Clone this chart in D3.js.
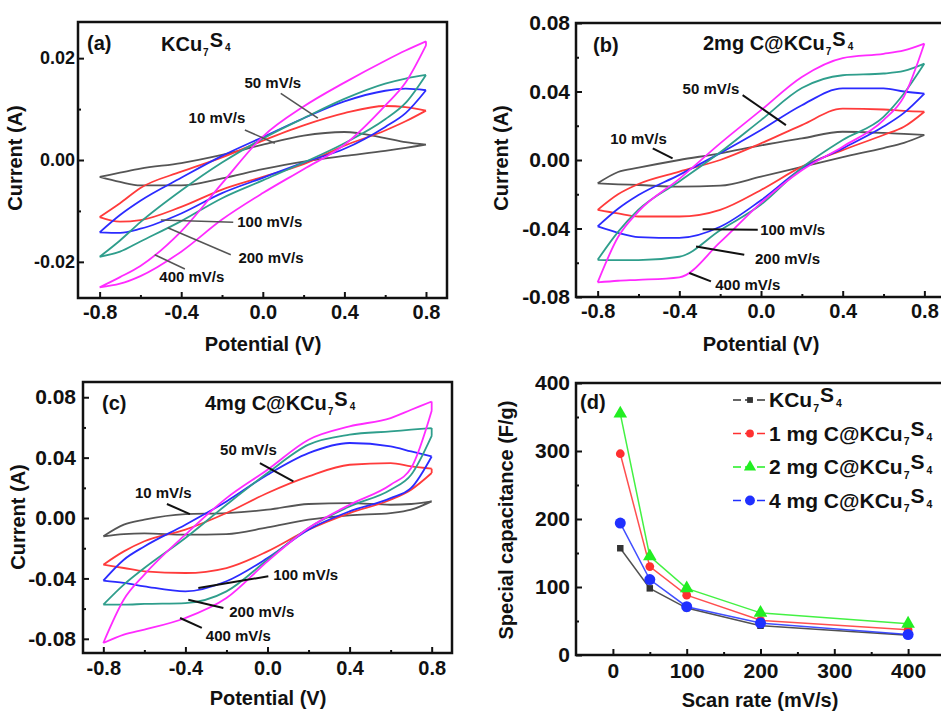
<!DOCTYPE html>
<html>
<head>
<meta charset="utf-8">
<script src="https://cdn.jsdelivr.net/npm/d3@7"></script>
<style>
  body { margin: 0; background: #fff; }
  svg text { font-family: "Liberation Sans", Arial, sans-serif; font-weight: bold; fill: #111; }
</style>
</head>
<body>
<svg id="chart" width="941" height="711"></svg>
<script>
// ---------- data ----------
var potentials = [-0.8, -0.7, -0.6, -0.4, -0.2, 0, 0.2, 0.4, 0.6, 0.7, 0.8];
var scanLabels = ["10 mV/s", "50 mV/s", "100 mV/s", "200 mV/s", "400 mV/s"];

// current (A) on the forward (anodic) and reverse scans, one row per scan rate
var cvA_forward = [
  [-0.0033, -0.0025, -0.0017, -0.0006, 0.0010, 0.0030, 0.0048, 0.0055, 0.0043, 0.0035, 0.0030],
  [-0.0112, -0.0085, -0.0055, -0.0023, 0.0005, 0.0038, 0.0068, 0.0092, 0.0106, 0.0104, 0.0097],
  [-0.0142, -0.0108, -0.0080, -0.0035, 0.0008, 0.0045, 0.0082, 0.0115, 0.0136, 0.0140, 0.0137],
  [-0.0190, -0.0158, -0.0122, -0.0060, -0.0005, 0.0042, 0.0082, 0.0120, 0.0150, 0.0160, 0.0167],
  [-0.0250, -0.0230, -0.0208, -0.0140, -0.0046, 0.0046, 0.0105, 0.0152, 0.0195, 0.0215, 0.0233]
];
var cvA_reverse = [
  [-0.0033, -0.0043, -0.0050, -0.0050, -0.0036, -0.0018, -0.0003, 0.0008, 0.0018, 0.0024, 0.0030],
  [-0.0112, -0.0121, -0.0118, -0.0092, -0.0058, -0.0033, -0.0008, 0.0028, 0.0058, 0.0076, 0.0097],
  [-0.0142, -0.0143, -0.0135, -0.0105, -0.0065, -0.0035, -0.0005, 0.0022, 0.0065, 0.0092, 0.0137],
  [-0.0190, -0.0180, -0.0160, -0.0120, -0.0075, -0.0040, -0.0005, 0.0033, 0.0080, 0.0112, 0.0167],
  [-0.0250, -0.0243, -0.0228, -0.0180, -0.0117, -0.0065, -0.0018, 0.0030, 0.0107, 0.0152, 0.0225]
];

var cvB_forward = [
  [-0.0136, -0.0070, -0.0045, 0.0000, 0.0039, 0.0085, 0.0126, 0.0165, 0.0158, 0.0152, 0.0146],
  [-0.0291, -0.0200, -0.0140, -0.0068, 0.0000, 0.0097, 0.0204, 0.0300, 0.0295, 0.0287, 0.0282],
  [-0.0388, -0.0285, -0.0205, -0.0087, 0.0040, 0.0175, 0.0320, 0.0418, 0.0418, 0.0400, 0.0388],
  [-0.0583, -0.0420, -0.0290, -0.0125, 0.0045, 0.0233, 0.0420, 0.0495, 0.0505, 0.0520, 0.0563],
  [-0.0715, -0.0450, -0.0300, -0.0110, 0.0097, 0.0291, 0.0485, 0.0595, 0.0620, 0.0640, 0.0680]
];
var cvB_reverse = [
  [-0.0136, -0.0142, -0.0146, -0.0156, -0.0150, -0.0097, -0.0040, 0.0017, 0.0070, 0.0100, 0.0146],
  [-0.0291, -0.0312, -0.0330, -0.0330, -0.0291, -0.0175, -0.0039, 0.0058, 0.0146, 0.0194, 0.0282],
  [-0.0388, -0.0425, -0.0450, -0.0455, -0.0390, -0.0235, -0.0050, 0.0068, 0.0195, 0.0275, 0.0388],
  [-0.0583, -0.0585, -0.0585, -0.0565, -0.0410, -0.0260, -0.0045, 0.0117, 0.0252, 0.0388, 0.0563],
  [-0.0715, -0.0705, -0.0700, -0.0685, -0.0480, -0.0250, -0.0060, 0.0078, 0.0233, 0.0370, 0.0680]
];

var cvC_forward = [
  [-0.0121, -0.0044, -0.0011, 0.0026, 0.0033, 0.0055, 0.0093, 0.0099, 0.0088, 0.0093, 0.0110],
  [-0.0309, -0.0221, -0.0154, -0.0077, 0.0033, 0.0166, 0.0276, 0.0353, 0.0364, 0.0342, 0.0327],
  [-0.0415, -0.0276, -0.0188, -0.0044, 0.0110, 0.0287, 0.0430, 0.0497, 0.0475, 0.0441, 0.0408],
  [-0.0574, -0.0441, -0.0331, -0.0132, 0.0088, 0.0298, 0.0486, 0.0552, 0.0574, 0.0585, 0.0596],
  [-0.0828, -0.0540, -0.0375, -0.0110, 0.0132, 0.0320, 0.0519, 0.0607, 0.0662, 0.0717, 0.0772]
];
var cvC_reverse = [
  [-0.0121, -0.0106, -0.0102, -0.0110, -0.0106, -0.0062, -0.0011, 0.0018, 0.0033, 0.0055, 0.0110],
  [-0.0309, -0.0331, -0.0353, -0.0364, -0.0331, -0.0221, -0.0077, 0.0033, 0.0121, 0.0188, 0.0298],
  [-0.0415, -0.0430, -0.0452, -0.0486, -0.0419, -0.0265, -0.0077, 0.0044, 0.0132, 0.0199, 0.0408],
  [-0.0574, -0.0574, -0.0569, -0.0563, -0.0486, -0.0276, -0.0066, 0.0077, 0.0188, 0.0287, 0.0545],
  [-0.0828, -0.0772, -0.0739, -0.0662, -0.0530, -0.0287, -0.0066, 0.0088, 0.0221, 0.0331, 0.0710]
];

// panel (d): specific capacitance vs scan rate
var scanRates = [10, 50, 100, 200, 400];
var capKCu = [157, 98, 69, 43, 29];
var cap1mg = [296, 130, 88, 51, 37];
var cap2mg = [355, 145, 98, 62, 46];
var cap4mg = [194, 111, 71, 47, 30];
var legendPrefixes = ["", "1 mg C@", "2 mg C@", "4 mg C@"];

// ---------- styles ----------
var cvColors = ["#555555", "#ff3b3b", "#2b2bff", "#2f9e8c", "#ff2bff"];
var capColors = ["#333333", "#ff3030", "#22ee22", "#2030ff"];

var svg = d3.select("#chart");
var loc = d3.formatLocale({decimal: ".", thousands: ",", grouping: [3], currency: ["", ""], minus: "-"});

function formula(textSel, prefix) {
  textSel.append("tspan").text(prefix + "KCu");
  textSel.append("tspan").text("7").attr("font-size", "0.5em").attr("dy", "0.45em").attr("dx", "1");
  textSel.append("tspan").text("S").attr("dy", "-0.45em").attr("dx", "1");
  textSel.append("tspan").text("4").attr("font-size", "0.5em").attr("dy", "0.45em").attr("dx", "2");
}

function styleAxis(g, size) {
  g.select(".domain").remove();
  g.selectAll(".tick line").attr("stroke", "#111").attr("stroke-width", 2);
  g.selectAll(".tick text").attr("font-size", size).attr("fill", "#111");
}

function addAxes(x, y, box, o) {
  var gx = svg.append("g").attr("transform", "translate(0," + box[3] + ")")
    .call(d3.axisBottom(x).tickValues(o.xMajor).tickSize(-6).tickPadding(o.xPad).tickFormat(o.xFmt));
  styleAxis(gx, o.xFont);
  var gxm = svg.append("g").attr("transform", "translate(0," + box[3] + ")")
    .call(d3.axisBottom(x).tickValues(o.xMinor).tickSize(-3).tickFormat(""));
  styleAxis(gxm, 1);
  var gy = svg.append("g").attr("transform", "translate(" + box[0] + ",0)")
    .call(d3.axisLeft(y).tickValues(o.yMajor).tickSize(-6).tickPadding(o.yPad).tickFormat(o.yFmt));
  styleAxis(gy, o.yFont);
  var gym = svg.append("g").attr("transform", "translate(" + box[0] + ",0)")
    .call(d3.axisLeft(y).tickValues(o.yMinor).tickSize(-3).tickFormat(""));
  styleAxis(gym, 1);
  svg.append("rect").attr("x", box[0]).attr("y", box[1])
    .attr("width", box[2] - box[0]).attr("height", box[3] - box[1])
    .attr("fill", "none").attr("stroke", "#111").attr("stroke-width", 2.5);
  svg.append("text").attr("x", o.xTitle[0]).attr("y", o.xTitle[1]).attr("text-anchor", "middle")
    .attr("font-size", 20).text(o.xLabel);
  svg.append("text").attr("transform", "translate(" + o.yTitle[0] + "," + o.yTitle[1] + ") rotate(-90)")
    .attr("text-anchor", "middle").attr("font-size", o.yTitleFont || 20).text(o.yLabel);
}

function cvPanel(o) {
  var box = o.box;
  var x = d3.scaleLinear().domain(o.xDomain).range([box[0], box[2]]);
  var y = d3.scaleLinear().domain(o.yDomain).range([box[3], box[1]]);
  var line = d3.line().x(function(d){ return x(d[0]); }).y(function(d){ return y(d[1]); })
    .curve(d3.curveMonotoneX);
  var n = potentials.length - 1;

  o.fwd.forEach(function(row, i) {
    var up = potentials.map(function(v, k){ return [v, row[k]]; });
    var dn = potentials.map(function(v, k){ return [v, o.rev[i][k]]; });
    var d = line(up) + line(dn) +
      "M" + x(up[0][0]) + "," + y(up[0][1]) + "L" + x(dn[0][0]) + "," + y(dn[0][1]) +
      "M" + x(up[n][0]) + "," + y(up[n][1]) + "L" + x(dn[n][0]) + "," + y(dn[n][1]);
    svg.append("path").attr("d", d).attr("fill", "none")
      .attr("stroke", cvColors[i]).attr("stroke-width", 1.8).attr("stroke-linejoin", "round");
  });

  addAxes(x, y, box, {
    xMajor: [-0.8, -0.4, 0, 0.4, 0.8], xMinor: [-0.6, -0.2, 0.2, 0.6],
    yMajor: o.yMajor, yMinor: o.yMinor,
    xFmt: loc.format(".1f"), yFmt: loc.format(".2f"),
    xPad: o.xPad, yPad: o.yPad, xFont: 20, yFont: o.yFont,
    xLabel: "Potential (V)", yLabel: "Current (A)",
    xTitle: o.xTitle, yTitle: o.yTitle
  });

  // scan-rate call-outs
  o.notes.forEach(function(a) {
    svg.append("line")
      .attr("x1", x(a.from[0])).attr("y1", y(a.from[1]))
      .attr("x2", x(a.to[0])).attr("y2", y(a.to[1]))
      .attr("stroke", o.noteStroke).attr("stroke-width", o.noteWidth);
    svg.append("text").attr("x", x(a.at[0])).attr("y", y(a.at[1])).attr("dy", "0.35em")
      .attr("text-anchor", "middle").attr("font-size", 15).text(scanLabels[a.i]);
  });

  svg.append("text").attr("x", o.tag[0]).attr("y", o.tag[1]).attr("font-size", 20).text(o.tagText);
  formula(svg.append("text").attr("x", o.title[0]).attr("y", o.title[1]).attr("font-size", 20), o.titlePrefix);
}

// ---------- panel (a) ----------
cvPanel({
  box: [78, 22, 447, 298], xDomain: [-0.906, 0.903], yDomain: [-0.0271, 0.0271],
  fwd: cvA_forward, rev: cvA_reverse,
  yMajor: [-0.02, 0, 0.02], yMinor: [-0.01, 0.01], yFont: 18,
  xPad: 7, yPad: 3, xTitle: [263, 351], yTitle: [22, 158],
  noteStroke: "#555", noteWidth: 1.5,
  notes: [
    {i: 1, at: [0.049, 0.0151], from: [0.088, 0.0131], to: [0.27, 0.0082]},
    {i: 0, at: [-0.225, 0.0082], from: [-0.088, 0.0059], to: [0.059, 0.0033]},
    {i: 2, at: [0.034, -0.0122], from: [-0.145, -0.0122], to: [-0.50, -0.0118]},
    {i: 3, at: [0.04, -0.0192], from: [-0.157, -0.0186], to: [-0.466, -0.0133]},
    {i: 4, at: [-0.348, -0.0229], from: [-0.382, -0.0214], to: [-0.53, -0.0186]}
  ],
  tag: [87, 50], tagText: "(a)", title: [161, 51], titlePrefix: ""
});

// ---------- panel (b) ----------
cvPanel({
  box: [576, 23, 945, 297], xDomain: [-0.906, 0.901], yDomain: [-0.08, 0.08],
  fwd: cvB_forward, rev: cvB_reverse,
  yMajor: [-0.08, -0.04, 0, 0.04, 0.08], yMinor: [-0.06, -0.02, 0.02, 0.06], yFont: 21,
  xPad: 7, yPad: 6, xTitle: [761, 351], yTitle: [508, 158],
  noteStroke: "#111", noteWidth: 2,
  notes: [
    {i: 1, at: [-0.245, 0.0417], from: [-0.09, 0.0379], to: [0.122, 0.0204]},
    {i: 0, at: [-0.6, 0.0126], from: [-0.53, 0.0068], to: [-0.433, 0.001]},
    {i: 2, at: [0.155, -0.0408], from: [-0.016, -0.0408], to: [-0.286, -0.0404]},
    {i: 3, at: [0.13, -0.0579], from: [-0.082, -0.0553], to: [-0.318, -0.0505]},
    {i: 4, at: [-0.065, -0.0728], from: [-0.245, -0.0709], to: [-0.351, -0.066]}
  ],
  tag: [593, 52], tagText: "(b)", title: [703, 50], titlePrefix: "2mg C@"
});

// ---------- panel (c) ----------
cvPanel({
  box: [83, 382, 452, 653], xDomain: [-0.899, 0.899], yDomain: [-0.0894, 0.0901],
  fwd: cvC_forward, rev: cvC_reverse,
  yMajor: [-0.08, -0.04, 0, 0.04, 0.08], yMinor: [-0.06, -0.02, 0.02, 0.06], yFont: 21,
  xPad: 8, yPad: 7, xTitle: [268, 705], yTitle: [25, 517],
  noteStroke: "#111", noteWidth: 2,
  notes: [
    {i: 1, at: [-0.093, 0.0452], from: [-0.037, 0.0364], to: [0.126, 0.0243]},
    {i: 0, at: [-0.508, 0.0166], from: [-0.49, 0.0093], to: [-0.378, 0.0026]},
    {i: 2, at: [0.186, -0.0375], from: [0.004, -0.0386], to: [-0.337, -0.0463]},
    {i: 3, at: [-0.028, -0.0618], from: [-0.215, -0.0596], to: [-0.386, -0.0541]},
    {i: 4, at: [-0.142, -0.0783], from: [-0.32, -0.0728], to: [-0.426, -0.0662]}
  ],
  tag: [102, 410], tagText: "(c)", title: [205, 410], titlePrefix: "4mg C@"
});

// ---------- panel (d) ----------
(function() {
  var box = [576, 383, 945, 655];
  var x = d3.scaleLinear().domain([-50, 450]).range([box[0], box[2]]);
  var y = d3.scaleLinear().domain([0, 400]).range([box[3], box[1]]);
  var series = [capKCu, cap1mg, cap2mg, cap4mg];
  var shapes = [d3.symbolSquare, d3.symbolCircle, d3.symbolTriangle, d3.symbolCircle];
  var sizes = [42, 60, 80, 95];
  var line = d3.line().x(function(d){ return x(d[0]); }).y(function(d){ return y(d[1]); });

  series.forEach(function(vals, i) {
    var pts = scanRates.map(function(r, k){ return [r, vals[k]]; });
    svg.append("path").attr("d", line(pts)).attr("fill", "none")
      .attr("stroke", capColors[i]).attr("stroke-width", 1.5).attr("opacity", 0.85);
    svg.append("g").selectAll("path").data(pts).enter().append("path")
      .attr("transform", function(d){ return "translate(" + x(d[0]) + "," + y(d[1]) + ")"; })
      .attr("d", d3.symbol().type(shapes[i]).size(sizes[i]))
      .attr("fill", capColors[i]);
  });

  addAxes(x, y, box, {
    xMajor: [0, 100, 200, 300, 400], xMinor: [50, 150, 250, 350],
    yMajor: [0, 100, 200, 300, 400], yMinor: [50, 150, 250, 350],
    xFmt: loc.format("d"), yFmt: loc.format("d"),
    xPad: 8, yPad: 6, xFont: 21, yFont: 21,
    xLabel: "Scan rate (mV/s)", yLabel: "Special capacitance (F/g)",
    xTitle: [760, 707], yTitle: [513, 520], yTitleFont: 20
  });

  // legend
  legendPrefixes.forEach(function(p, i) {
    var ly = 400 + i * 33.5;
    svg.append("line").attr("x1", 733).attr("x2", 766).attr("y1", ly).attr("y2", ly)
      .attr("stroke", capColors[i]).attr("stroke-width", 1.5).attr("stroke-dasharray", "8,4");
    svg.append("path").attr("transform", "translate(750," + ly + ")")
      .attr("d", d3.symbol().type(shapes[i]).size(sizes[i] * 0.8)).attr("fill", capColors[i]);
    formula(svg.append("text").attr("x", 769).attr("y", ly + 7).attr("font-size", 21), p);
  });

  svg.append("text").attr("x", 580).attr("y", 409).attr("font-size", 20).text("(d)");
})();
</script>
</body>
</html>
